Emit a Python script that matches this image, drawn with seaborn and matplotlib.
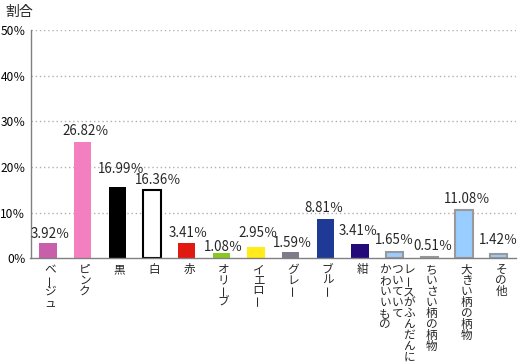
import matplotlib
matplotlib.use("Agg")
import matplotlib.pyplot as plt
import seaborn as sns
import pandas as pd

# ---------------- data ----------------
categories = ["ベージュ", "ピンク", "黒", "白", "赤", "オリーブ", "イエロー", "グレー",
              "ブルー", "紺", "レースがふんだんに\nついていて\nかわいいもの",
              "ちいさい柄の柄物", "大きい柄の柄物", "その他"]
bar_heights = [3.34, 25.5, 15.6, 14.9, 3.27, 1.2, 2.46, 1.36, 8.6, 3.12, 1.36, 0.26, 10.5, 0.85]
value_labels = [3.92, 26.82, 16.99, 16.36, 3.41, 1.08, 2.95, 1.59, 8.81, 3.41, 1.65, 0.51, 11.08, 1.42]
y_ticks = [0, 10, 20, 30, 40, 50]
y_title = "割合"

# ---------------- style ----------------
bar_colors = ["#c95fab", "#f47fc0", "#000000", "#ffffff", "#e01a10", "#88c822", "#ffec1a",
              "#7e7b8a", "#1e3a96", "#230b7a", "#99ccff", "#99ccff", "#99ccff", "#99ccff"]
edge_colors = ["none", "none", "none", "#000000", "none", "none", "none",
               "none", "none", "none", "#999999", "#999999", "#999999", "#999999"]
label_gap_px = [5, 7, 14, 6, 6.5, 2, 10, 5, 7, 9, 8, 7, 7, 10]
label_dx_px = [2.5, 3, 4.5, 6.5, 1.5, 2.5, 2, 2, -1, -2, 0, 3.5, 3, 0]

sns.set_style("white")
plt.rcParams["font.family"] = ["Noto Sans CJK JP", "DejaVu Sans"]

PX = 0.72  # points per pixel at dpi 100
W, H = 520, 363
fig = plt.figure(figsize=(W / 100, H / 100), dpi=100)
ax = fig.add_axes([30.5 / W, 1 - 258.2 / H, (516 - 30.5) / W, (258.2 - 30) / H])

df = pd.DataFrame({"cat": categories, "val": bar_heights})
sns.barplot(data=df, x="cat", y="val", hue="cat", palette=dict(zip(categories, bar_colors)),
            legend=False, width=0.5, ax=ax, saturation=1)

for p, ec in zip(ax.patches, edge_colors):
    if ec != "none":
        p.set_edgecolor(ec)
        p.set_linewidth(1.5)
    else:
        p.set_linewidth(0)

ax.set_xlim(-0.5, len(categories) - 0.5)
ax.set_ylim(0, 50)
ax.set_yticks(y_ticks)
ax.set_yticklabels([f"{t}％" for t in y_ticks], fontsize=8.6)
ax.set_xlabel("")
ax.set_ylabel("")
for t in y_ticks[1:]:
    ax.axhline(t, color="#b0b0b0", lw=1, ls=(0, (1, 2)), zorder=0)

for s in ["top", "right"]:
    ax.spines[s].set_visible(False)
for s in ["left", "bottom"]:
    ax.spines[s].set_color("#808080")
    ax.spines[s].set_linewidth(1)

ax.tick_params(axis="y", length=3, width=1, color="#808080", pad=0.5, labelcolor="#000000")
ax.set_xticks([i + 0.5 for i in range(len(categories) - 1)])
ax.set_xticklabels([])
ax.tick_params(axis="x", direction="in", length=4, width=1, color="#808080")

# value labels
for i, (h, v) in enumerate(zip(bar_heights, value_labels)):
    ax.annotate(f"{v:.2f}％", xy=(i, h), xytext=(label_dx_px[i] * PX, label_gap_px[i] * PX),
                textcoords="offset points", ha="center", va="baseline", fontsize=9.6)

# ---- vertical category labels: one multi-line text per column ----
FS = 8.4
STEP = 10.3   # px between stacked characters
TOP = 5.0     # px below the axis line
renderer = fig.canvas.get_renderer()
t1 = fig.text(0, 0, "あ", fontsize=FS)
t2 = fig.text(0, 0, "あ\nあ", fontsize=FS, linespacing=1.0)
h1 = t1.get_window_extent(renderer).height
h2 = t2.get_window_extent(renderer).height
t1.remove(); t2.remove()
base = h2 - h1
ls = STEP / base

for i, lab in enumerate(categories):
    cols = lab.split("\n")
    n = len(cols)
    for j, col in enumerate(cols):
        dx = 2.5 + (n - 1) / 2 * 12 - j * 12
        txt = "\n".join("　" if ch == "ー" else ch for ch in col)
        ax.annotate(txt, xy=(i, 0), xycoords=("data", "axes fraction"),
                    xytext=(dx * PX, -TOP * PX), textcoords="offset points",
                    ha="center", va="top", fontsize=FS, linespacing=ls,
                    multialignment="center", annotation_clip=False)
        for k, ch in enumerate(col):
            if ch == "ー":
                cy = TOP + h1 / 2 + k * STEP
                ax.annotate(ch, xy=(i, 0), xycoords=("data", "axes fraction"),
                            xytext=(dx * PX, -cy * PX), textcoords="offset points",
                            ha="center", va="center", fontsize=FS, rotation=90,
                            annotation_clip=False)

fig.text(19 / W, 1 - 12 / H, y_title, ha="center", va="center", fontsize=10)

fig.savefig("out.png", dpi=100)
